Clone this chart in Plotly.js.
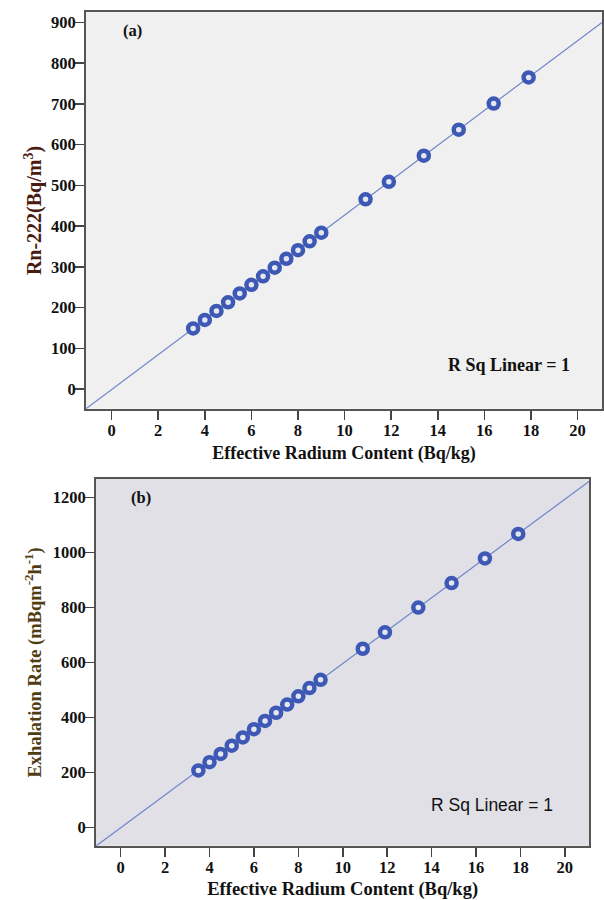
<!DOCTYPE html>
<html>
<head>
<meta charset="utf-8">
<script src="https://cdn.plot.ly/plotly-3.0.1.min.js"></script>
<style>html,body{margin:0;padding:0;background:#fff;}#chart{width:604px;height:900px;}</style>
</head>
<body>
<div id="chart"></div>
<script>
// Data
const radium = [3.5, 4.0, 4.5, 5.0, 5.5, 6.0, 6.5, 7.0, 7.5, 8.0, 8.5, 9.0, 10.9, 11.9, 13.4, 14.9, 16.4, 17.9];
const rn222 = [149, 170, 192, 213, 235, 256, 277, 298, 320, 341, 363, 384, 466, 509, 573, 637, 701, 765];
const exhalation = [207, 237, 267, 297, 327, 357, 387, 417, 447, 477, 507, 537, 650, 710, 800, 889, 979, 1068];
const xTicks = [0, 2, 4, 6, 8, 10, 12, 14, 16, 18, 20];
const yTicksA = [0, 100, 200, 300, 400, 500, 600, 700, 800, 900];
const yTicksB = [0, 200, 400, 600, 800, 1000, 1200];

const xRangeA = [-1.1, 21.05];
const yRangeA = [-48, 925];
const xRangeB = [-1.11, 21.1];
const yRangeB = [-67, 1268];

function fit(x, y) {
  const n = x.length;
  const mx = x.reduce((a, b) => a + b, 0) / n;
  const my = y.reduce((a, b) => a + b, 0) / n;
  let sxy = 0, sxx = 0;
  for (let i = 0; i < n; i++) { sxy += (x[i] - mx) * (y[i] - my); sxx += (x[i] - mx) ** 2; }
  const b = sxy / sxx;
  return { slope: b, intercept: my - b * mx };
}
const fa = fit(radium, rn222);
const fb = fit(radium, exhalation);

const markerStyle = { symbol: 'circle', size: 10, color: '#e4e6f0', line: { color: '#3d58b5', width: 4.5 } };
const lineStyle = { color: '#6f86c9', width: 1.2 };

const traces = [
  { x: xRangeA, y: xRangeA.map(v => fa.slope * v + fa.intercept), mode: 'lines', line: lineStyle, xaxis: 'x', yaxis: 'y', hoverinfo: 'skip' },
  { x: radium, y: rn222, mode: 'markers', marker: markerStyle, xaxis: 'x', yaxis: 'y' },
  { x: xRangeB, y: xRangeB.map(v => fb.slope * v + fb.intercept), mode: 'lines', line: lineStyle, xaxis: 'x2', yaxis: 'y2', hoverinfo: 'skip' },
  { x: radium, y: exhalation, mode: 'markers', marker: markerStyle, xaxis: 'x2', yaxis: 'y2' }
];

const serif = 'Liberation Serif, Times New Roman, serif';
const tickFont = { family: serif, size: 16.5, color: '#111', weight: 'bold' };
const axisCommon = {
  showgrid: false, zeroline: false, showline: true, mirror: true,
  linecolor: '#555', linewidth: 2, ticks: 'outside', ticklen: 9, tickwidth: 1.5, tickcolor: '#444',
  tickfont: tickFont, fixedrange: true, automargin: false
};

const layout = {
  width: 604, height: 900,
  margin: { l: 0, r: 0, t: 0, b: 0 },
  paper_bgcolor: '#ffffff',
  showlegend: false,
  xaxis: Object.assign({}, axisCommon, {
    domain: [86 / 604, 602 / 604], range: xRangeA, tickvals: xTicks, anchor: 'y', ticklabelstandoff: -4,
    title: { text: 'Effective Radium Content (Bq/kg)', font: { family: serif, size: 18, color: '#111', weight: 'bold' }, standoff: 8 }
  }),
  yaxis: Object.assign({}, axisCommon, {
    domain: [1 - 408.7 / 900, 1 - 12.3 / 900], range: yRangeA, tickvals: yTicksA, anchor: 'x', ticklabelstandoff: -4,
    title: { text: 'Rn-222(Bq/m<sup>3</sup>)', font: { family: serif, size: 20, color: '#4a1c10', weight: 'bold' }, standoff: 4 }
  }),
  xaxis2: Object.assign({}, axisCommon, {
    domain: [96 / 604, 589.3 / 604], range: xRangeB, tickvals: xTicks, anchor: 'y2', ticklabelstandoff: -4,
    title: { text: 'Effective Radium Content (Bq/kg)', font: { family: serif, size: 18.5, color: '#111', weight: 'bold' }, standoff: 8 }
  }),
  yaxis2: Object.assign({}, axisCommon, {
    domain: [1 - 845.7 / 900, 1 - 479 / 900], range: yRangeB, tickvals: yTicksB, anchor: 'x2', ticklabelstandoff: -4,
    title: { text: 'Exhalation Rate (mBqm<sup>-2</sup>h<sup>-1</sup>)', font: { family: serif, size: 18.5, color: '#503c12', weight: 'bold' }, standoff: 6 }
  }),
  shapes: [
    { type: 'rect', xref: 'x domain', yref: 'y domain', x0: 0, x1: 1, y0: 0, y1: 1, fillcolor: '#f0f0f0', line: { width: 0 }, layer: 'below' },
    { type: 'rect', xref: 'x2 domain', yref: 'y2 domain', x0: 0, x1: 1, y0: 0, y1: 1, fillcolor: '#e0e0e6', line: { width: 0 }, layer: 'below' }
  ],
  annotations: [
    { text: '(a)', xref: 'x', yref: 'y', x: 0.9, y: 880, xanchor: 'center', yanchor: 'middle', showarrow: false,
      font: { family: serif, size: 16.5, color: '#111', weight: 'bold' } },
    { text: 'R Sq Linear = 1', xref: 'x', yref: 'y', x: 19.75, y: 59, xanchor: 'right', yanchor: 'middle', showarrow: false,
      font: { family: serif, size: 18, color: '#111', weight: 'bold' } },
    { text: '(b)', xref: 'x2', yref: 'y2', x: 0.9, y: 1200, xanchor: 'center', yanchor: 'middle', showarrow: false,
      font: { family: serif, size: 16.5, color: '#111', weight: 'bold' } },
    { text: 'R Sq Linear = 1', xref: 'x2', yref: 'y2', x: 19.55, y: 81, xanchor: 'right', yanchor: 'middle', showarrow: false,
      font: { family: 'Liberation Sans, Arial, sans-serif', size: 17.5, color: '#111' } }
  ]
};

Plotly.newPlot('chart', traces, layout, { displayModeBar: false, staticPlot: true });
</script>
</body>
</html>
